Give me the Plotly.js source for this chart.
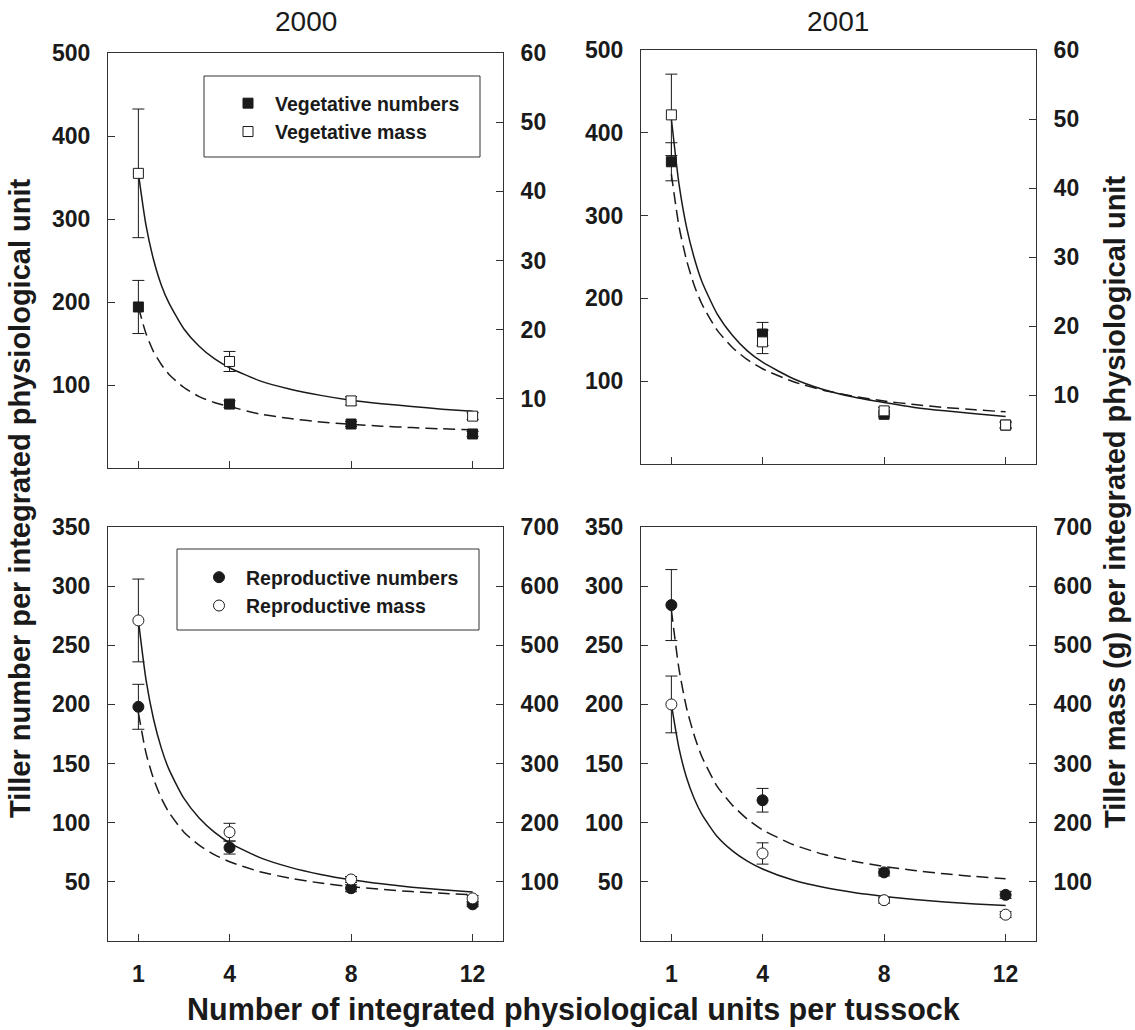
<!DOCTYPE html>
<html><head><meta charset="utf-8">
<script src="https://cdn.plot.ly/plotly-3.0.1.min.js"></script>
<style>html,body{margin:0;padding:0;background:#fff}</style>
</head><body><div id="chart" style="width:1135px;height:1030px"></div>
<script>
// ---- data ----
const units = [1, 4, 8, 12];
const xTickLabels = ['1', '4', '8', '12'];
const panelTitles = ['2000', '2001'];
const legendNames = ['Vegetative numbers', 'Vegetative mass', 'Reproductive numbers', 'Reproductive mass'];

// 2000 vegetative
const veg2000Numbers = [194, 77, 53, 41];
const veg2000NumbersErr = [32, 4, 3, 3];
const veg2000Mass = [42.6, 15.4, 9.7, 7.5];
const veg2000MassErr = [9.3, 1.45, 0.6, 0.5];
// 2001 vegetative
const veg2001Numbers = [365, 157, 60, 47];
const veg2001NumbersErr = [23, 14, 3, 3];
const veg2001Mass = [50.6, 17.7, 7.7, 5.65];
const veg2001MassErr = [5.9, 1.7, 0.5, 0.5];
// 2000 reproductive
const rep2000Numbers = [198, 79, 44.6, 31];
const rep2000NumbersErr = [19, 5.5, 3, 2];
const rep2000Mass = [542, 184, 104, 72];
const rep2000MassErr = [70, 15, 5, 5];
// 2001 reproductive
const rep2001Numbers = [284, 119, 58, 39];
const rep2001NumbersErr = [30, 10, 3, 3];
const rep2001Mass = [400, 148, 69, 44.5];
const rep2001MassErr = [48, 18, 5, 5];

// fitted curves
const curveX = [1, 1.25, 1.5, 1.75, 2, 2.5, 3, 3.5, 4, 5, 6, 7, 8, 9, 10, 11, 12];
const veg2000NumbersCurve = [194, 162, 140, 125, 113, 97, 86, 79, 74, 65, 59.5, 55.5, 52.7, 50.4, 48.7, 47.2, 46];
const veg2000MassCurve = [42.6, 35.1, 30.1, 26.5, 23.9, 20.1, 17.6, 15.8, 14.5, 12.6, 11.4, 10.5, 9.8, 9.3, 8.9, 8.5, 8.2];
const veg2001NumbersCurve = [350, 287, 246, 216, 193.5, 162, 141, 126, 115, 99.6, 89, 81.7, 76, 71.8, 68.3, 65.5, 63];
const veg2001MassCurve = [50, 40.6, 34.3, 29.9, 26.5, 21.8, 18.7, 16.4, 14.75, 12.4, 10.8, 9.7, 8.9, 8.2, 7.7, 7.3, 6.9];
const rep2000NumbersCurve = [193, 159, 137, 121, 109, 92, 81, 73, 67, 58.6, 53, 49, 46, 43.7, 41.8, 40.3, 39];
const rep2000MassCurve = [542, 442, 375, 327, 291, 241, 208, 184, 166, 141, 124.5, 112.6, 103.6, 96.7, 91, 86.5, 82.8];
const rep2001NumbersCurve = [280, 230, 197, 174, 156, 131, 115, 103, 94, 81.6, 73.3, 67.4, 63, 59.6, 56.8, 54.5, 52.7];
const rep2001MassCurve = [400, 326, 276, 241, 214.5, 177, 152.7, 135, 121.75, 103, 90.8, 82, 75.4, 70.2, 66.1, 62.7, 59.9];

// axis tick values
const vegLeftTicks = [100, 200, 300, 400, 500];
const vegRightTicks = [10, 20, 30, 40, 50, 60];
const repLeftTicks = [50, 100, 150, 200, 250, 300, 350];
const repRightTicks = [100, 200, 300, 400, 500, 600, 700];

// ---- styling / layout ----
const W = 1135, H = 1030;
const FONT = 'Liberation Sans, Arial, Helvetica, sans-serif';
const INK = '#1a1a1a';
const AX = '#333333';
const px = v => v / W;
const py = v => 1 - v / H;

function lineTrace(x, y, xa, ya, dash) {
  return {x: x, y: y, xaxis: xa, yaxis: ya, type: 'scatter', mode: 'lines', line: {shape: 'spline', smoothing: 0.6, color: INK, width: 1.5, dash: dash}, showlegend: false, hoverinfo: 'skip'};
}
function markTrace(y, err, xa, ya, symbol, filled, name, legend, show) {
  return {x: units, y: y, xaxis: xa, yaxis: ya, type: 'scatter', mode: 'markers', name: name,
    legend: legend, showlegend: show,
    marker: {symbol: symbol, size: symbol === 'square' ? 10 : 11, color: filled ? INK : '#ffffff', line: {color: INK, width: 1}},
    error_y: {type: 'data', array: err, visible: true, color: INK, thickness: 1, width: 6}};
}

const traces = [
  // TL 2000 vegetative
  lineTrace(curveX, veg2000NumbersCurve, 'x', 'y', '12px,6px'),
  lineTrace(curveX, veg2000MassCurve, 'x', 'y2', 'solid'),
  markTrace(veg2000Numbers, veg2000NumbersErr, 'x', 'y', 'square', true, legendNames[0], 'legend', true),
  markTrace(veg2000Mass, veg2000MassErr, 'x', 'y2', 'square', false, legendNames[1], 'legend', true),
  // TR 2001 vegetative
  lineTrace(curveX, veg2001NumbersCurve, 'x2', 'y3', '12px,6px'),
  lineTrace(curveX, veg2001MassCurve, 'x2', 'y4', 'solid'),
  markTrace(veg2001Numbers, veg2001NumbersErr, 'x2', 'y3', 'square', true, legendNames[0], 'legend', false),
  markTrace(veg2001Mass, veg2001MassErr, 'x2', 'y4', 'square', false, legendNames[1], 'legend', false),
  // BL 2000 reproductive
  lineTrace(curveX, rep2000NumbersCurve, 'x3', 'y5', '12px,6px'),
  lineTrace(curveX, rep2000MassCurve, 'x3', 'y6', 'solid'),
  markTrace(rep2000Numbers, rep2000NumbersErr, 'x3', 'y5', 'circle', true, legendNames[2], 'legend2', true),
  markTrace(rep2000Mass, rep2000MassErr, 'x3', 'y6', 'circle', false, legendNames[3], 'legend2', true),
  // BR 2001 reproductive
  lineTrace(curveX, rep2001NumbersCurve, 'x4', 'y7', '12px,6px'),
  lineTrace(curveX, rep2001MassCurve, 'x4', 'y8', 'solid'),
  markTrace(rep2001Numbers, rep2001NumbersErr, 'x4', 'y7', 'circle', true, legendNames[2], 'legend2', false),
  markTrace(rep2001Mass, rep2001MassErr, 'x4', 'y8', 'circle', false, legendNames[3], 'legend2', false)
];

const tickFont = {family: FONT, size: 23, color: INK, weight: 700};
function xAxis(domain, anchor, labels) {
  return {domain: domain, anchor: anchor, range: [0, 13], tickmode: 'array', tickvals: units, ticktext: xTickLabels,
    showticklabels: labels, ticks: 'inside', ticklen: 7, tickcolor: AX, tickwidth: 1,
    showline: true, linecolor: AX, linewidth: 1, mirror: true, showgrid: false, zeroline: false,
    tickfont: tickFont, ticklabelstandoff: 12, fixedrange: true};
}
function yAxis(domain, anchor, range, ticks, side, overlaying) {
  const a = {domain: domain, anchor: anchor, range: range, tickmode: 'array', tickvals: ticks,
    ticks: 'inside', ticklen: 7, tickcolor: AX, tickwidth: 1, side: side,
    showline: true, linecolor: AX, linewidth: 1, showgrid: false, zeroline: false,
    tickfont: tickFont, ticklabelstandoff: 12, fixedrange: true};
  if (overlaying) a.overlaying = overlaying;
  return a;
}

const xL = [px(108), px(503)], xR = [px(641), px(1036)];
const yTL = [py(468), py(53)], yTR = [py(464), py(50)];
const yB = [py(941), py(527)];

const titleFont = {family: FONT, size: 30.5, color: INK, weight: 700};
const yTitleFont = {family: FONT, size: 29, color: INK, weight: 700};
const legendFont = {family: FONT, size: 19.5, color: INK, weight: 700};

const layout = {
  width: W, height: H, margin: {l: 0, r: 0, t: 0, b: 0},
  paper_bgcolor: '#ffffff', plot_bgcolor: 'rgba(0,0,0,0)',
  font: {family: FONT, color: INK},
  xaxis: xAxis(xL, 'y', false),
  xaxis2: xAxis(xR, 'y3', false),
  xaxis3: xAxis(xL, 'y5', true),
  xaxis4: xAxis(xR, 'y7', true),
  yaxis: yAxis(yTL, 'x', [0, 500], vegLeftTicks, 'left'),
  yaxis2: yAxis(yTL, 'x', [0, 60], vegRightTicks, 'right', 'y'),
  yaxis3: yAxis(yTR, 'x2', [0, 500], vegLeftTicks, 'left'),
  yaxis4: yAxis(yTR, 'x2', [0, 60], vegRightTicks, 'right', 'y3'),
  yaxis5: yAxis(yB, 'x3', [0, 350], repLeftTicks, 'left'),
  yaxis6: yAxis(yB, 'x3', [0, 700], repRightTicks, 'right', 'y5'),
  yaxis7: yAxis(yB, 'x4', [0, 350], repLeftTicks, 'left'),
  yaxis8: yAxis(yB, 'x4', [0, 700], repRightTicks, 'right', 'y7'),
  legend: {x: px(221), y: py(84), xanchor: 'left', yanchor: 'top', bgcolor: 'rgba(0,0,0,0)', borderwidth: 0,
    font: legendFont, itemwidth: 44, tracegroupgap: 0, traceorder: 'normal'},
  legend2: {x: px(192), y: py(558), xanchor: 'left', yanchor: 'top', bgcolor: 'rgba(0,0,0,0)', borderwidth: 0,
    font: legendFont, itemwidth: 44, tracegroupgap: 0, traceorder: 'normal'},
  shapes: [
    {type: 'rect', xref: 'paper', yref: 'paper', x0: px(204), x1: px(480), y0: py(157), y1: py(76), line: {color: AX, width: 1}, fillcolor: 'rgba(0,0,0,0)', layer: 'above'},
    {type: 'rect', xref: 'paper', yref: 'paper', x0: px(177), x1: px(479), y0: py(630), y1: py(549), line: {color: AX, width: 1}, fillcolor: 'rgba(0,0,0,0)', layer: 'above'}
  ],
  annotations: [
    {text: panelTitles[0], xref: 'paper', yref: 'paper', x: px(305.5), y: py(22), xanchor: 'center', yanchor: 'middle', showarrow: false, font: {family: FONT, size: 28, color: INK}},
    {text: panelTitles[1], xref: 'paper', yref: 'paper', x: px(838.5), y: py(22), xanchor: 'center', yanchor: 'middle', showarrow: false, font: {family: FONT, size: 28, color: INK}},
    {text: 'Number of integrated physiological units per tussock', xref: 'paper', yref: 'paper', x: px(573), y: py(1009), xanchor: 'center', yanchor: 'middle', showarrow: false, font: titleFont},
    {text: 'Tiller number per integrated physiological unit', xref: 'paper', yref: 'paper', x: px(20), y: py(498), xanchor: 'center', yanchor: 'middle', textangle: -90, showarrow: false, font: yTitleFont},
    {text: 'Tiller mass (g) per integrated physiological unit', xref: 'paper', yref: 'paper', x: px(1115), y: py(502), xanchor: 'center', yanchor: 'middle', textangle: -90, showarrow: false, font: yTitleFont}
  ]
};

Plotly.newPlot('chart', traces, layout, {displayModeBar: false, staticPlot: true});
</script>
</body></html>
